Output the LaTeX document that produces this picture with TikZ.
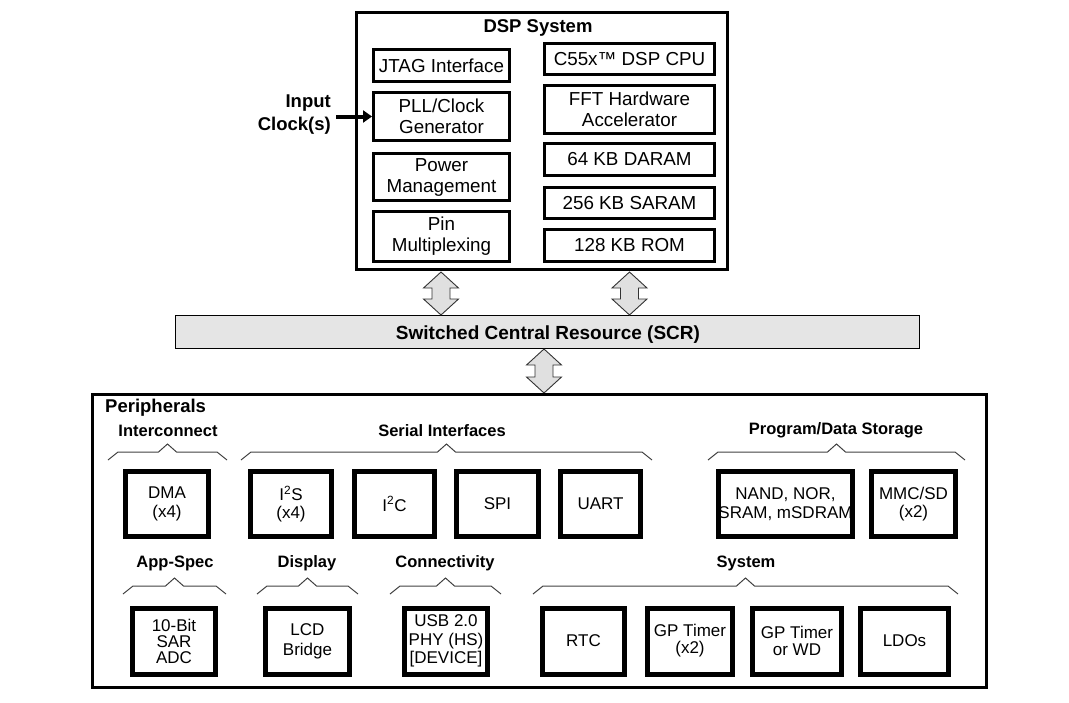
\documentclass[tikz,border=0pt]{standalone}
\usepackage{fontspec}
\setmainfont{Liberation Sans}
\usetikzlibrary{arrows.meta,calc}
\newcommand\grpbrace[3]{%
  \pgfmathsetmacro\bxc{(#1+#2)/2}%
  \draw[bracepath] (#1,#3+16) -- (#1+10,#3+8) -- (\bxc-9,#3+8) -- (\bxc,#3) -- (\bxc+9,#3+8) -- (#2-10,#3+8) -- (#2,#3+16);}
\newcommand\dblarr[3]{%
  \draw[blockarr] (#1,#2) -- (#1+17.5,#2+16) -- (#1+9,#2+16) -- (#1+9,#3-16) -- (#1+17.5,#3-16) -- (#1,#3) -- (#1-17.5,#3-16) -- (#1-9,#3-16) -- (#1-9,#2+16) -- (#1-17.5,#2+16) -- cycle;}
\begin{document}
\begin{tikzpicture}[x=1pt,y=-1pt,
  dspbox/.style={draw, line width=3pt, inner sep=0pt, align=center, font=\fontsize{18.8}{21}\selectfont},
  perbox/.style={draw, line width=5pt, inner sep=0pt, align=center, font=\fontsize{17}{18.5}\selectfont},
  grplbl/.style={inner sep=0pt, font=\bfseries\fontsize{16.5}{18}\selectfont},
  bracepath/.style={draw=black!75, line width=1pt},
  blockarr/.style={draw=black!80, fill=black!12, line width=0.9pt, line join=miter},
  bigbox/.style={draw, line width=3pt, inner sep=0pt}]
\useasboundingbox (0,0) rectangle (1069,702);

% DSP system
\node[bigbox, minimum width=371pt, minimum height=257pt] (dsp) at (542,141) {};
\node[inner sep=0pt, font=\bfseries\fontsize{18.5}{20}\selectfont] (dsptitle) at (538,28) {DSP System};

\node[dspbox, minimum width=136pt, minimum height=32pt] (jtag) at (441.5,65.5) {JTAG Interface};
\node[dspbox, minimum width=136pt, minimum height=48pt] (pll) at (441.5,116.5) {PLL/Clock\\Generator};
\node[dspbox, minimum width=136pt, minimum height=47pt] (pwr) at (441.5,177) {Power\\Management};
\node[dspbox, minimum width=136pt, minimum height=50pt] (pin) at (441.5,236.5) {Pin\\Multiplexing};

\node[dspbox, minimum width=170pt, minimum height=31pt] (cpu) at (629.5,59) {C55x™ DSP CPU};
\node[dspbox, minimum width=170pt, minimum height=48pt] (fft) at (629.5,109.5) {FFT Hardware\\Accelerator};
\node[dspbox, minimum width=170pt, minimum height=32pt] (daram) at (629.5,159.5) {64 KB DARAM};
\node[dspbox, minimum width=170pt, minimum height=31pt] (saram) at (629.5,203) {256 KB SARAM};
\node[dspbox, minimum width=170pt, minimum height=32pt] (rom) at (629.5,245.5) {128 KB ROM};

% input clock
\node[inner sep=0pt, anchor=east, align=right, font=\bfseries\fontsize{18.5}{23}\selectfont] (inclk) at (331,115) {Input\\Clock(s)};
\coordinate (clkstart) at ([xshift=5pt]inclk.east);
\draw[line width=4pt, -{Triangle[length=9pt,width=12pt]}] (clkstart |- pll.west) -- (pll.west);

% SCR
\node[draw, line width=1pt, fill=black!10, inner sep=0pt, minimum width=744pt, minimum height=33pt] (scr) at (547.5,332) {};
\node[inner sep=0pt, font=\bfseries\fontsize{19}{21}\selectfont] (scrtext) at (548,335) {Switched Central Resource (SCR)};

\dblarr{441}{272}{315}
\dblarr{629.5}{272}{315}
\dblarr{544}{349}{393}

% Peripherals
\node[bigbox, minimum width=894pt, minimum height=293pt] (per) at (539.5,541) {};
\node[inner sep=0pt, anchor=west, font=\bfseries\fontsize{18.5}{20}\selectfont] (pertitle) at (105,408) {Peripherals};

\node[grplbl] (g1) at (168,431) {Interconnect};
\node[grplbl] (g2) at (442,431) {Serial Interfaces};
\node[grplbl] (g3) at (836,430) {Program/Data Storage};
\grpbrace{108}{227}{444}
\grpbrace{241}{652}{444}
\grpbrace{708}{965}{444}

\node[perbox, minimum width=83pt, minimum height=65pt] (dma) at (167,504) {DMA\\(x4)};
\node[perbox, minimum width=81pt, minimum height=65pt] (i2s) at (291,504) {I\textsuperscript{2}S\\(x4)};
\node[perbox, minimum width=80pt, minimum height=65pt] (i2c) at (394.5,504) {I\textsuperscript{2}C};
\node[perbox, minimum width=82pt, minimum height=65pt] (spi) at (497.5,504) {SPI};
\node[perbox, minimum width=80pt, minimum height=65pt] (uart) at (600.5,504) {UART};
\node[perbox, minimum width=134pt, minimum height=65pt] (nand) at (785.5,504) {NAND, NOR,\\SRAM, mSDRAM};
\node[perbox, minimum width=84pt, minimum height=65pt] (mmc) at (913.5,504) {MMC/SD\\(x2)};

\node[grplbl] (g4) at (175,563) {App-Spec};
\node[grplbl] (g5) at (307,563) {Display};
\node[grplbl] (g6) at (445,563) {Connectivity};
\node[grplbl] (g7) at (746,563) {System};
\grpbrace{123}{226}{578}
\grpbrace{257}{358}{578}
\grpbrace{390}{501}{578}
\grpbrace{533}{958}{578}

\node[perbox, minimum width=83pt, minimum height=66pt, font=\fontsize{17}{16}\selectfont] (adc) at (174,641) {10-Bit\\SAR\\ADC};
\node[perbox, minimum width=84pt, minimum height=66pt, font=\fontsize{17}{20}\selectfont] (lcd) at (307.5,641) {LCD\\Bridge};
\node[perbox, minimum width=83pt, minimum height=66pt] (usb) at (446,641) {USB 2.0\\PHY (HS)\\{[DEVICE]}};
\node[perbox, minimum width=82pt, minimum height=66pt] (rtc) at (583.5,641) {RTC};
\node[perbox, minimum width=85pt, minimum height=66pt, font=\fontsize{17}{17}\selectfont] (gpt) at (690,641) {GP Timer\\(x2)};
\node[perbox, minimum width=89pt, minimum height=66pt, font=\fontsize{17}{17}\selectfont] (wd) at (797,641) {GP Timer\\or WD};
\node[perbox, minimum width=88pt, minimum height=66pt] (ldo) at (904.5,641) {LDOs};
\end{tikzpicture}
\end{document}
